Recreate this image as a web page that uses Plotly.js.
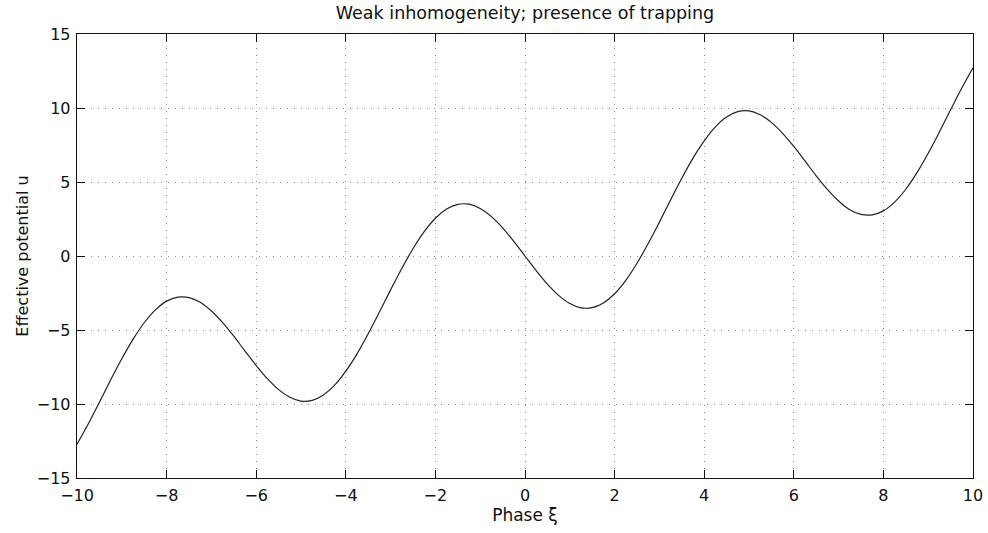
<!DOCTYPE html>
<html>
<head>
<meta charset="utf-8">
<script src="https://cdn.plot.ly/plotly-3.0.1.min.js"></script>
<style>html,body{margin:0;padding:0;background:#fff;}#chart{width:988px;height:533px;}</style>
</head>
<body>
<div id="chart"></div>
<script>
const xi = [-10,-9.75,-9.5,-9.25,-9,-8.75,-8.5,-8.25,-8,-7.75,-7.5,-7.25,-7,-6.75,-6.5,-6.25,-6,-5.75,-5.5,-5.25,-5,-4.75,-4.5,-4.25,-4,-3.75,-3.5,-3.25,-3,-2.75,-2.5,-2.25,-2,-1.75,-1.5,-1.25,-1,-0.75,-0.5,-0.25,0,0.25,0.5,0.75,1,1.25,1.5,1.75,2,2.25,2.5,2.75,3,3.25,3.5,3.75,4,4.25,4.5,4.75,5,5.25,5.5,5.75,6,6.25,6.5,6.75,7,7.25,7.5,7.75,8,8.25,8.5,8.75,9,9.25,9.5,9.75,10];
const u = [-12.72,-11.35,-9.88,-8.38,-6.94,-5.63,-4.51,-3.64,-3.05,-2.78,-2.81,-3.13,-3.72,-4.50,-5.42,-6.42,-7.40,-8.29,-9.03,-9.54,-9.80,-9.75,-9.39,-8.73,-7.78,-6.61,-5.25,-3.79,-2.29,-0.84,0.49,1.64,2.55,3.17,3.49,3.50,3.21,2.66,1.90,0.99,0,-0.99,-1.90,-2.66,-3.21,-3.50,-3.49,-3.17,-2.55,-1.64,-0.49,0.84,2.29,3.79,5.25,6.61,7.78,8.73,9.39,9.75,9.80,9.54,9.03,8.29,7.40,6.42,5.42,4.50,3.72,3.13,2.81,2.78,3.05,3.64,4.51,5.63,6.94,8.38,9.88,11.35,12.72];
const xTicks = [-10,-8,-6,-4,-2,0,2,4,6,8,10];
const yTicks = [-15,-10,-5,0,5,10,15];
const titleText = "Weak inhomogeneity; presence of trapping";
const xTitle = "Phase ξ";
const yTitle = "Effective potential u";

const FONT = 'DejaVu Sans, Liberation Sans, Arial, sans-serif';
const fmt = v => v < 0 ? '\u2212' + Math.abs(v) : String(v);
const axisCommon = {
  showline: true, linecolor: '#111', linewidth: 1.3, mirror: 'allticks',
  ticks: 'inside', ticklen: 8, tickcolor: '#111', tickwidth: 1,
  showgrid: true, gridcolor: '#8a8a8a', gridwidth: 1, griddash: '1px,6px',
  zeroline: false, tickfont: {family: FONT, size: 16, color: '#111'}
};
const layout = {
  width: 988, height: 533,
  margin: {l: 77, r: 15, t: 34, b: 55},
  paper_bgcolor: '#fff', plot_bgcolor: '#fff',
  showlegend: false,
  title: {text: titleText, xref: 'paper', x: 0.5, xanchor: 'center', yref: 'container', y: 0.975, yanchor: 'middle',
          font: {family: FONT, size: 17.5, color: '#111'}},
  xaxis: Object.assign({}, axisCommon, {range: [-10, 10], tickvals: xTicks,
          ticktext: xTicks.map(fmt), ticklabelstandoff: 2,
          title: {text: xTitle, standoff: 3, font: {family: FONT, size: 17, color: '#111'}}}),
  yaxis: Object.assign({}, axisCommon, {range: [-15, 15], tickvals: yTicks,
          ticktext: yTicks.map(fmt), ticklabelstandoff: 2,
          title: {text: yTitle, standoff: 4, font: {family: FONT, size: 16, color: '#111'}}})
};
const data = [{x: xi, y: u, type: 'scatter', mode: 'lines',
  line: {color: '#222', width: 1.2, shape: 'spline', smoothing: 1}, hoverinfo: 'skip'}];
Plotly.newPlot('chart', data, layout, {displayModeBar: false, staticPlot: true});
</script>
</body>
</html>
